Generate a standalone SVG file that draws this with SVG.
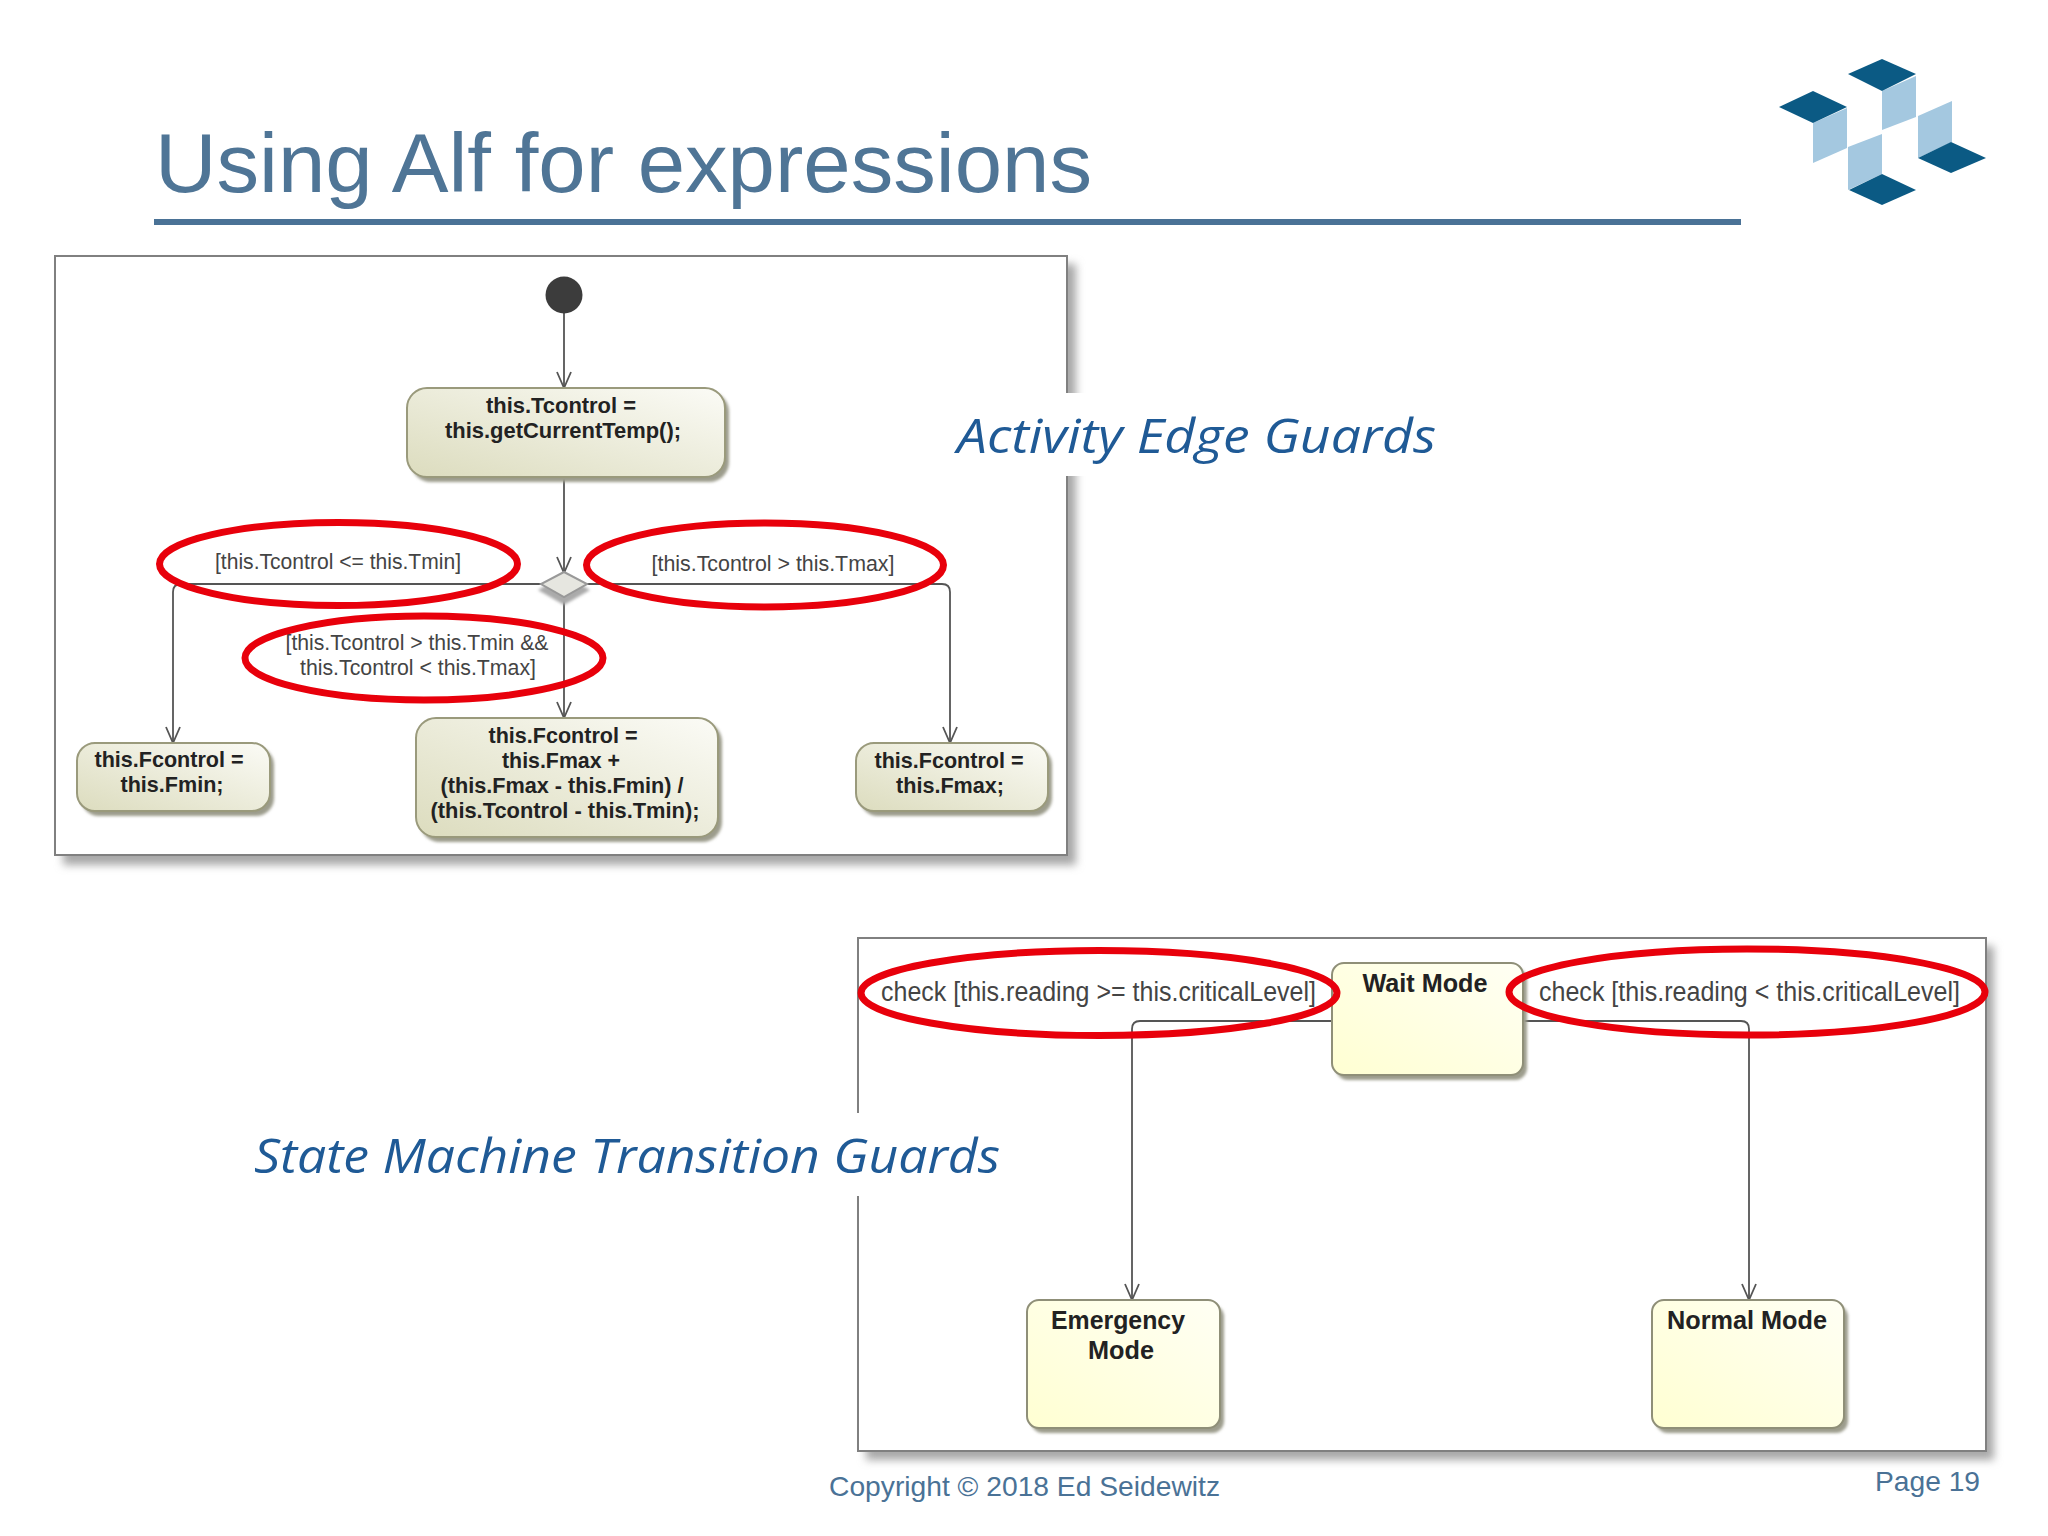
<svg xmlns="http://www.w3.org/2000/svg" width="2048" height="1536" viewBox="0 0 2048 1536">
<style>
.frame{fill:#fff;stroke:#808080;stroke-width:2}
.fshadow{fill:#a8a8a8;filter:url(#blur)}
.nshadow{fill:#9c9c8c;filter:url(#soft)}
.action{fill:url(#actionFill);stroke:#9a9a7c;stroke-width:2}
.state{fill:url(#stateFill);stroke:#8f8f78;stroke-width:2}
.conn{fill:none;stroke:#555;stroke-width:1.8;marker-end:url(#open)}
.guard{fill:none;stroke:#e8000b;stroke-width:7}
text{font-family:"Liberation Sans",Arial,sans-serif}
.b{font-weight:700;font-size:22px;fill:#222;text-anchor:middle}
.g{font-size:22px;fill:#444;text-anchor:middle}
.c{font-size:27px;fill:#444}
.s{font-weight:700;font-size:26px;fill:#222;text-anchor:middle}
.note{font-family:"Open Sans",sans-serif;font-style:italic;font-size:48px;fill:#1f5a96}
.foot{font-size:28px;fill:#4a7296}
.dark{fill:#0b5a84}
.light{fill:#a4c8e0}
</style>
<defs>
<filter id="blur" x="-5%" y="-5%" width="110%" height="110%"><feGaussianBlur stdDeviation="4"/></filter>
<filter id="soft" x="-10%" y="-10%" width="120%" height="120%"><feGaussianBlur stdDeviation="1.5"/></filter>
<linearGradient id="actionFill" x1="0" y1="1" x2="1" y2="0"><stop offset="0" stop-color="#dcdcbe"/><stop offset="1" stop-color="#fbfbf6"/></linearGradient>
<linearGradient id="stateFill" x1="0" y1="1" x2="1" y2="0"><stop offset="0" stop-color="#ffffd2"/><stop offset="1" stop-color="#fffff4"/></linearGradient>
<marker id="open" markerUnits="userSpaceOnUse" markerWidth="20" markerHeight="20" refX="17" refY="9" orient="auto"><path d="M1,2 L17,9 L1,16" fill="none" stroke="#555" stroke-width="1.8"/></marker>
</defs>
<rect width="2048" height="1536" fill="#fff"/>

<g id="header">
<text x="155" y="192" font-size="84" fill="#4f7596" textLength="937" lengthAdjust="spacingAndGlyphs">Using Alf for expressions</text>
<rect x="154" y="219" width="1587" height="6" fill="#4a7296"/>
</g>
<g id="logo">
<polygon class="light" points="1813,123 1847,108 1847,148 1813,163"/>
<polygon class="light" points="1882,91 1916,76 1916,117 1882,130"/>
<polygon class="light" points="1848,147 1882,134 1882,174 1848,190"/>
<polygon class="light" points="1918,116 1952,101 1952,142 1918,158"/>
<polygon class="dark" points="1882,59 1916,74 1882,91 1848,74"/>
<polygon class="dark" points="1813,91 1847,107 1813,123 1779,107"/>
<polygon class="dark" points="1882,174 1916,190 1882,205 1849,190"/>
<polygon class="dark" points="1951,142 1986,158 1951,173 1918,158"/>
</g>

<g id="activity-frame">
<rect class="fshadow" x="63" y="264" width="1013" height="601"/>
<rect class="frame" x="55" y="256" width="1012" height="599"/>
</g>
<g id="state-frame">
<rect class="fshadow" x="866" y="946" width="1128" height="514"/>
<rect class="frame" x="858" y="938" width="1128" height="513"/>
</g>

<g id="connectors">
<path class="conn" d="M564,312 V388"/>
<path class="conn" d="M564,477 V573"/>
<path class="conn" d="M564,590 V718"/>
<path class="conn" d="M545,584 H181 Q173,584 173,592 V743"/>
<path class="conn" d="M583,584 H942 Q950,584 950,592 V743"/>
<path class="conn" d="M1332,1021 H1140 Q1132,1021 1132,1029 V1300"/>
<path class="conn" d="M1523,1021 H1741 Q1749,1021 1749,1029 V1300"/>
</g>

<g id="initial"><circle cx="564" cy="295" r="18.5" fill="#3c3c3c"/></g>
<g id="decision">
<polygon points="564,575 590,590 564,605 538,590" fill="#aaa" filter="url(#soft)"/>
<polygon points="564,572 587,584 564,597 541,584" fill="#e6e6e0" stroke="#999" stroke-width="2"/>
</g>
<g id="get-temp">
<rect class="nshadow" x="411" y="392" width="318" height="90" rx="20"/>
<rect class="action" x="407" y="388" width="318" height="89" rx="20"/>
<text class="b" x="561" y="413" textLength="150" lengthAdjust="spacingAndGlyphs">this.Tcontrol =</text>
<text class="b" x="563" y="438" textLength="236" lengthAdjust="spacingAndGlyphs">this.getCurrentTemp();</text>
</g>
<g id="set-min">
<rect class="nshadow" x="81" y="747" width="193" height="69" rx="18"/>
<rect class="action" x="77" y="743" width="193" height="68" rx="18"/>
<text class="b" x="169" y="767" textLength="149" lengthAdjust="spacingAndGlyphs">this.Fcontrol =</text>
<text class="b" x="172" y="792" textLength="103" lengthAdjust="spacingAndGlyphs">this.Fmin;</text>
</g>
<g id="set-mid">
<rect class="nshadow" x="420" y="722" width="302" height="120" rx="20"/>
<rect class="action" x="416" y="718" width="302" height="119" rx="20"/>
<text class="b" x="563" y="743" textLength="149" lengthAdjust="spacingAndGlyphs">this.Fcontrol =</text>
<text class="b" x="561" y="768" textLength="118" lengthAdjust="spacingAndGlyphs">this.Fmax +</text>
<text class="b" x="562" y="793" textLength="243" lengthAdjust="spacingAndGlyphs">(this.Fmax - this.Fmin) /</text>
<text class="b" x="565" y="818" textLength="269" lengthAdjust="spacingAndGlyphs">(this.Tcontrol - this.Tmin);</text>
</g>
<g id="set-max">
<rect class="nshadow" x="860" y="747" width="192" height="69" rx="18"/>
<rect class="action" x="856" y="743" width="192" height="68" rx="18"/>
<text class="b" x="949" y="768" textLength="149" lengthAdjust="spacingAndGlyphs">this.Fcontrol =</text>
<text class="b" x="950" y="793" textLength="108" lengthAdjust="spacingAndGlyphs">this.Fmax;</text>
</g>
<g id="wait-mode">
<rect class="nshadow" x="1336" y="968" width="191" height="112" rx="12"/>
<rect class="state" x="1332" y="963" width="191" height="112" rx="12"/>
<text class="s" x="1425" y="992" textLength="125" lengthAdjust="spacingAndGlyphs">Wait Mode</text>
</g>
<g id="emergency-mode">
<rect class="nshadow" x="1031" y="1305" width="193" height="128" rx="12"/>
<rect class="state" x="1027" y="1300" width="193" height="128" rx="12"/>
<text class="s" x="1118" y="1329" textLength="134" lengthAdjust="spacingAndGlyphs">Emergency</text>
<text class="s" x="1121" y="1359" textLength="66" lengthAdjust="spacingAndGlyphs">Mode</text>
</g>
<g id="normal-mode">
<rect class="nshadow" x="1656" y="1305" width="192" height="128" rx="12"/>
<rect class="state" x="1652" y="1300" width="192" height="128" rx="12"/>
<text class="s" x="1747" y="1329" textLength="160" lengthAdjust="spacingAndGlyphs">Normal Mode</text>
</g>

<g id="guard-labels">
<text class="g" x="338" y="569" textLength="246" lengthAdjust="spacingAndGlyphs">[this.Tcontrol &lt;= this.Tmin]</text>
<text class="g" x="773" y="571" textLength="243" lengthAdjust="spacingAndGlyphs">[this.Tcontrol &gt; this.Tmax]</text>
<text class="g" x="417" y="650" textLength="263" lengthAdjust="spacingAndGlyphs">[this.Tcontrol &gt; this.Tmin &amp;&amp;</text>
<text class="g" x="418" y="675" textLength="236" lengthAdjust="spacingAndGlyphs">this.Tcontrol &lt; this.Tmax]</text>
<text class="c" x="881" y="1001" textLength="435" lengthAdjust="spacingAndGlyphs">check [this.reading &gt;= this.criticalLevel]</text>
<text class="c" x="1539" y="1001" textLength="421" lengthAdjust="spacingAndGlyphs">check [this.reading &lt; this.criticalLevel]</text>
</g>
<g id="guard-highlights">
<ellipse class="guard" cx="338.500" cy="564" rx="179" ry="41.500"/>
<ellipse class="guard" cx="765" cy="565" rx="178.500" ry="42"/>
<ellipse class="guard" cx="424" cy="658" rx="179" ry="42"/>
<ellipse class="guard" cx="1099" cy="993" rx="238" ry="42.500"/>
<ellipse class="guard" cx="1747" cy="992" rx="238" ry="43"/>
</g>

<g id="notes">
<rect x="950" y="393" width="500" height="83" fill="#fff"/>
<text class="note" x="957" y="453" textLength="479" lengthAdjust="spacingAndGlyphs">Activity Edge Guards</text>
<rect x="250" y="1113" width="752" height="83" fill="#fff"/>
<text class="note" x="254" y="1173" textLength="746" lengthAdjust="spacingAndGlyphs">State Machine Transition Guards</text>
</g>
<g id="footer">
<text class="foot" x="829" y="1496" textLength="391" lengthAdjust="spacingAndGlyphs">Copyright © 2018 Ed Seidewitz</text>
<text class="foot" x="1875" y="1491" textLength="105" lengthAdjust="spacingAndGlyphs">Page 19</text>
</g>
</svg>
